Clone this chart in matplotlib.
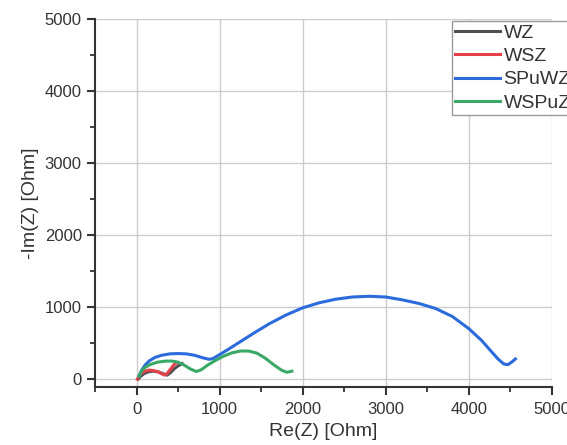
import numpy as np
import matplotlib.pyplot as plt
from matplotlib.ticker import MultipleLocator

plt.rcParams['font.family'] = ['Liberation Sans', 'DejaVu Sans']

# impedance data (Re, -Im) in Ohm
wz_re = [20, 50, 90, 140, 200, 260, 320, 370, 410, 460, 510, 550]
wz_im = [0, 40, 75, 100, 110, 100, 75, 55, 90, 150, 190, 215]

wsz_re = [10, 30, 60, 100, 150, 200, 260, 310, 340, 370, 410, 450, 480]
wsz_im = [0, 40, 80, 110, 125, 120, 100, 70, 55, 80, 140, 200, 225]

spuwz_re = [30, 60, 100, 150, 220, 300, 400, 500, 600, 700, 800, 870, 920,
            1000, 1100, 1250, 1400, 1600, 1800, 2000, 2200, 2400, 2600, 2800,
            3000, 3200, 3400, 3600, 3800, 4000, 4150, 4250, 4350, 4420, 4470,
            4520, 4560]
spuwz_im = [40, 120, 190, 250, 300, 330, 350, 355, 350, 330, 295, 275, 285,
            340, 410, 520, 630, 770, 890, 990, 1060, 1110, 1140, 1150,
            1140, 1100, 1050, 980, 870, 700, 540, 410, 280, 210, 200,
            240, 280]

wspuz_re = [30, 60, 100, 160, 250, 350, 430, 500, 580, 650, 720, 780, 850,
            950, 1050, 1150, 1250, 1350, 1450, 1550, 1650, 1750, 1810, 1870]
wspuz_im = [40, 110, 160, 200, 235, 250, 250, 235, 190, 140, 105, 130, 190,
            260, 320, 365, 390, 390, 360, 290, 200, 120, 95, 110]

fig = plt.figure(figsize=(5.67, 4.45), dpi=100)
ax = fig.add_axes([0.1675, 0.1303, 0.806, 0.827])

ax.plot(wz_re, wz_im, color='#505050', lw=2.2, label='WZ')
ax.plot(wsz_re, wsz_im, color='#e8404a', lw=2.2, label='WSZ')
ax.plot(spuwz_re, spuwz_im, color='#2b6bdc', lw=2.2, label='SPuWZ')
ax.plot(wspuz_re, wspuz_im, color='#3aa866', lw=2.2, label='WSPuZ')

ax.set_xlim(-500, 5000)
ax.set_ylim(-110, 5000)
ax.xaxis.set_major_locator(MultipleLocator(1000))
ax.xaxis.set_minor_locator(MultipleLocator(500))
ax.yaxis.set_major_locator(MultipleLocator(1000))
ax.yaxis.set_minor_locator(MultipleLocator(500))
ax.grid(True, which='major', color='#cccccc', lw=1)
ax.set_axisbelow(True)

for s in ['top', 'right']:
    ax.spines[s].set_visible(False)
for s in ['left', 'bottom']:
    ax.spines[s].set_linewidth(1.5)
    ax.spines[s].set_color('#333333')
ax.tick_params(which='major', direction='out', length=6, width=1.5, labelsize=12,
               color='#333333', labelcolor='#333333', pad=3.5)
ax.tick_params(which='minor', direction='out', length=3.5, width=1.3, color='#333333')
ax.tick_params(axis='x', pad=5)

ax.set_xlabel('Re(Z) [Ohm]', fontsize=14, color='#333333')
ax.set_ylabel('-Im(Z) [Ohm]', fontsize=14, color='#333333')

fig.legend(loc='upper left', bbox_to_anchor=(452 / 567, 1 - 21 / 445), borderaxespad=0,
           fontsize=14, frameon=True, fancybox=False, edgecolor='#999999', framealpha=1,
           handlelength=2.3, labelspacing=0.3, borderpad=0.15, handletextpad=0.2,
           labelcolor='#333333')

fig.savefig('out.png', dpi=100)
